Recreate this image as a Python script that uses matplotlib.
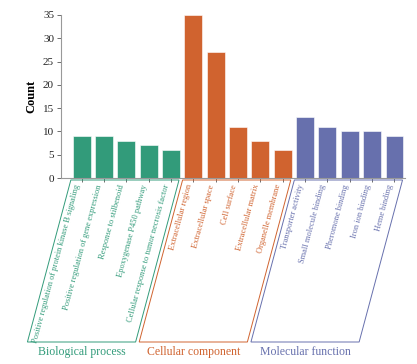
import matplotlib
matplotlib.use("Agg")
import matplotlib.pyplot as plt
from matplotlib.patches import Polygon
import numpy as np

plt.rcParams['font.family'] = ['Liberation Serif', 'DejaVu Serif']

terms = [
    "Positive regulation of protein kinase B signaling",
    "Positive regulation of gene expression",
    "Response to stilbenoid",
    "Epoxygenase P450 pathway",
    "Cellular response to tumor necrosis factor",
    "Extracellular region",
    "Extracellular space",
    "Cell surface",
    "Extracellular matrix",
    "Organelle membrane",
    "Transporter activity",
    "Small molecule binding",
    "Pheromone binding",
    "Iron ion binding",
    "Heme binding",
]
counts = [9, 9, 8, 7, 6, 35, 27, 11, 8, 6, 13, 11, 10, 10, 9]
groups = ["Biological process", "Cellular component", "Molecular function"]
group_sizes = [5, 5, 5]
group_colors = ["#329b7a", "#d0632f", "#6770ad"]

W, H = 417, 364
fig = plt.figure(figsize=(W / 100, H / 100), dpi=100)
ax = fig.add_axes([61 / W, 1 - 178 / H, 344 / W, 163 / H])

colors = []
gidx = []
for g, n in enumerate(group_sizes):
    colors += [group_colors[g]] * n
    gidx += [g] * n

x = np.arange(len(terms))
ax.bar(x, counts, width=0.8, color=colors, edgecolor='white', linewidth=0.4)

xmin, xmax = -0.92, 14.47
ax.set_xlim(xmin, xmax)
ax.set_ylim(0, 35)
ax.set_yticks([0, 5, 10, 15, 20, 25, 30, 35])
ax.set_ylabel("Count", fontsize=9, fontweight='bold', labelpad=4)

ax.set_xticks(x)
ax.set_xticklabels(terms, rotation=75, ha='right', va='top', fontsize=6.0)
for lbl, g in zip(ax.get_xticklabels(), gidx):
    lbl.set_color(group_colors[g])

for s in ['top', 'right']:
    ax.spines[s].set_visible(False)
for s in ['left', 'bottom']:
    ax.spines[s].set_color('#999999')
    ax.spines[s].set_linewidth(0.8)
ax.tick_params(axis='y', labelsize=8, length=3, width=0.6, color='#555555', pad=2, labelcolor='#222222')
ax.tick_params(axis='x', length=3, width=0.6, color='#555555', pad=1)

# group boxes (parallelograms) below the axis
ax_left, ax_width = 61 / W, 344 / W
def fx(v):
    return ax_left + (v - xmin) / (xmax - xmin) * ax_width

y_top = 1 - 180 / H
y_bot = 1 - 342 / H
shift = (162 / np.tan(np.radians(75))) / W
start = 0
for g, n in enumerate(group_sizes):
    i0, i1 = start, start + n - 1
    left_top = fx(i0 - 0.48)
    right_top = fx(i1 + 0.36)
    poly = Polygon([[left_top, y_top], [right_top, y_top],
                    [right_top - shift, y_bot], [left_top - shift, y_bot]],
                   closed=True, fill=False, edgecolor=group_colors[g],
                   linewidth=0.7, transform=fig.transFigure, clip_on=False)
    fig.add_artist(poly)
    cx = (left_top + right_top) / 2 - shift
    fig.text(cx, 1 - 352 / H, groups[g], color=group_colors[g],
             fontsize=8.5, ha='center', va='center')
    start += n

fig.savefig("out.png", dpi=100)
